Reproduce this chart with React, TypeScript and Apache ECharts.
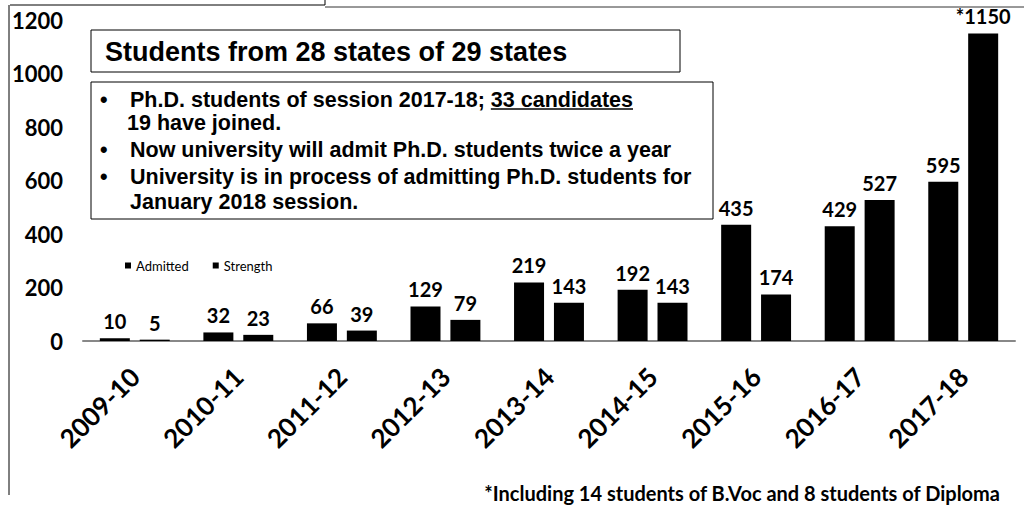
import React, { useEffect, useRef } from "react";
import * as echarts from "echarts";

const categories = ["2009-10", "2010-11", "2011-12", "2012-13", "2013-14", "2014-15", "2015-16", "2016-17", "2017-18"];
const admitted = [10, 32, 66, 129, 219, 192, 435, 429, 595];
const strength = [5, 23, 39, 79, 143, 143, 174, 527, 1150];
const yTicks = [0, 200, 400, 600, 800, 1000, 1200];
const titleText = "Students from 28 states of 29 states";
const bulletLines = [
  "Ph.D. students of session 2017-18; ",
  "19 have joined.",
  "Now university will admit Ph.D. students twice a year",
  "University is in process of admitting Ph.D. students for",
  "January 2018 session.",
];
const underlined = "33 candidates";
const footnote = "*Including 14 students of B.Voc and 8 students of Diploma";

const CAL = "Lato, 'Open Sans', sans-serif";
const ARIAL = "'Liberation Sans', Arial, sans-serif";

function measure(text: string, font: string): number {
  const c = document.createElement("canvas").getContext("2d");
  if (!c) return text.length * 11;
  c.font = font;
  return c.measureText(text).width;
}

export default function App() {
  const ref = useRef<HTMLDivElement>(null);
  useEffect(() => {
    if (!ref.current) return;
    const chart = echarts.init(ref.current, undefined, { renderer: "svg" });
    const LINE_SIZE = 21.5;
    const lineFont = { fontFamily: ARIAL, fontWeight: "bold", fontSize: LINE_SIZE, fill: "#000" };
    const bulletY = [100, 123, 150, 177, 202];
    const firstW = measure(bulletLines[0], `bold ${LINE_SIZE}px 'Liberation Sans'`);
    const ulW = measure(underlined, `bold ${LINE_SIZE}px 'Liberation Sans'`);
    const ulX = 130 + firstW;
    const graphics: any[] = [
      // scan borders
      { type: "line", shape: { x1: 10, y1: 5, x2: 325, y2: 5 }, style: { stroke: "#000", lineWidth: 1 } },
      { type: "line", shape: { x1: 325, y1: 0, x2: 325, y2: 5 }, style: { stroke: "#000", lineWidth: 1 } },
      { type: "line", shape: { x1: 325, y1: 7, x2: 1024, y2: 7 }, style: { stroke: "#333", lineWidth: 1 } },
      { type: "line", shape: { x1: 9, y1: 5, x2: 9, y2: 495 }, style: { stroke: "#000", lineWidth: 1 } },
      // title box
      { type: "rect", shape: { x: 91, y: 30, width: 589, height: 42 }, style: { fill: "#fff", stroke: "#000", lineWidth: 1 } },
      { type: "text", x: 105, y: 52, style: { text: titleText, fontFamily: ARIAL, fontWeight: "bold", fontSize: 27, fill: "#000", verticalAlign: "middle" } },
      // bullet box
      { type: "rect", shape: { x: 91, y: 82, width: 622, height: 137 }, style: { fill: "#fff", stroke: "#000", lineWidth: 1 } },
    ];
    [0, 2, 3].forEach((i) => {
      graphics.push({ type: "text", x: 100, y: bulletY[i], style: { ...lineFont, text: "•", verticalAlign: "middle" } });
    });
    bulletLines.forEach((t, i) => {
      graphics.push({ type: "text", x: i === 1 ? 127 : 130, y: bulletY[i], style: { ...lineFont, text: t, verticalAlign: "middle" } });
    });
    graphics.push({ type: "text", x: ulX, y: bulletY[0], style: { ...lineFont, text: underlined, verticalAlign: "middle" } });
    graphics.push({ type: "line", shape: { x1: ulX, y1: 109, x2: ulX + ulW, y2: 109 }, style: { stroke: "#000", lineWidth: 1.5 } });
    graphics.push({ type: "text", x: 1000, y: 493, style: { text: footnote, fontFamily: CAL, fontWeight: "bold", fontSize: 20, fill: "#000", align: "right", verticalAlign: "middle" } });

    const labelStyle = { show: true, position: "top", distance: 7, fontFamily: CAL, fontWeight: "bold", fontSize: 20, color: "#000" };
    chart.setOption({
      animation: false,
      grid: { left: 83, right: 9, top: 20, bottom: 165, containLabel: false },
      legend: {
        left: 120, top: 254, itemWidth: 6, itemHeight: 6, itemGap: 24, icon: "rect",
        textStyle: { fontFamily: CAL, fontSize: 13, color: "#000" },
        data: ["Admitted", "Strength"],
      },
      xAxis: {
        type: "category", data: categories,
        axisLine: { lineStyle: { color: "#888", width: 2 } },
        axisTick: { show: false },
        axisLabel: { interval: 0, rotate: 45, margin: 31, fontFamily: CAL, fontWeight: "bold", fontSize: 26, color: "#000" },
      },
      yAxis: {
        type: "value", min: yTicks[0], max: yTicks[yTicks.length - 1], interval: 200,
        axisLine: { show: false }, axisTick: { show: false }, splitLine: { show: false },
        axisLabel: { margin: 20, fontFamily: CAL, fontWeight: "bold", fontSize: 22, color: "#000", formatter: (v: number) => String(v) },
      },
      series: [
        { name: "Admitted", type: "bar", data: admitted, barWidth: 30, barGap: "33%", itemStyle: { color: "#000" }, label: labelStyle },
        {
          name: "Strength", type: "bar", data: strength, barWidth: 30, itemStyle: { color: "#000" },
          label: { ...labelStyle, formatter: (p: any) => (p.dataIndex === strength.length - 1 ? "*" + p.value : String(p.value)) },
        },
      ],
      graphic: graphics,
    });
    return () => chart.dispose();
  }, []);
  return <div ref={ref} style={{ position: "fixed", left: 0, top: 0, width: 1024, height: 506, background: "#fff" }} />;
}
